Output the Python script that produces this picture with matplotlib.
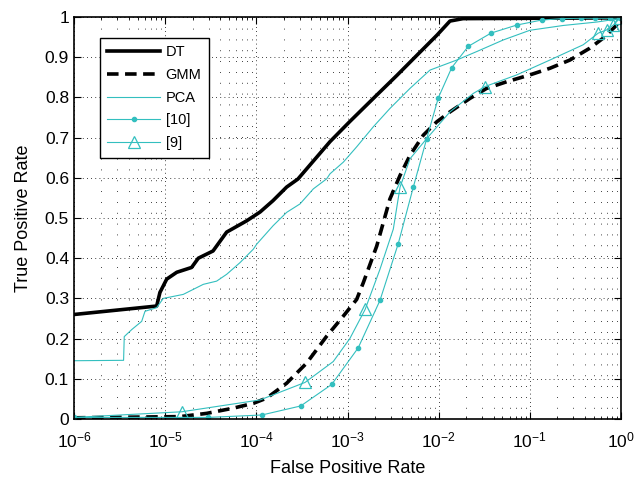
import numpy as np
import matplotlib
matplotlib.use("Agg")
import matplotlib.pyplot as plt
from matplotlib.ticker import FuncFormatter, LogLocator, MultipleLocator, FixedLocator

plt.rcParams['font.family'] = ['Liberation Sans', 'DejaVu Sans']
plt.rcParams['mathtext.default'] = 'regular'

# curves (false positive rate, true positive rate)
dt_fpr = [1e-6, 8.07e-6, 8.77e-6, 1.04e-5, 1.34e-5, 1.95e-5, 2.31e-5, 3.35e-5, 4.73e-5,
          7.83e-5, 1.10e-4, 1.52e-4, 2.15e-4, 2.86e-4, 6.43e-4, 1.06e-3, 1.91e-3,
          3.49e-3, 5.78e-3, 9.59e-3, 1.33e-2, 1.85e-2, 1.0]
dt_tpr = [0.26, 0.281, 0.315, 0.348, 0.365, 0.377, 0.40, 0.418, 0.465,
          0.493, 0.515, 0.543, 0.577, 0.597, 0.69, 0.74, 0.797,
          0.855, 0.905, 0.955, 0.99, 0.996, 0.998]

gmm_fpr = [1e-6, 1.46e-5, 2.85e-5, 5.58e-5, 9.27e-5, 1.30e-4, 2.15e-4, 3.56e-4, 5.91e-4,
           9.0e-4, 1.26e-3, 1.49e-3, 2.09e-3, 2.92e-3, 3.77e-3, 4.85e-3, 6.78e-3,
           9.50e-3, 1.33e-2, 2.20e-2, 3.36e-2, 5.57e-2, 0.1, 0.166, 0.275, 0.455,
           0.637, 0.897, 1.0]
gmm_tpr = [0.003, 0.006, 0.014, 0.027, 0.039, 0.052, 0.089, 0.139, 0.206,
           0.256, 0.2975, 0.339, 0.43, 0.5475, 0.606, 0.656, 0.706,
           0.739, 0.764, 0.7975, 0.8225, 0.839, 0.856, 0.8725, 0.893, 0.9225,
           0.9475, 0.98, 0.9975]

pca_fpr = [1e-6, 3.5e-6, 3.56e-6, 4.30e-6, 5.53e-6, 6.01e-6, 8.07e-6, 9.54e-6, 1.58e-5,
           2.62e-5, 3.67e-5, 4.73e-5, 6.62e-5, 9.27e-5, 1.01e-4, 1.53e-4, 2.15e-4,
           3.01e-4, 4.22e-4, 5.91e-4, 6.43e-4, 9.0e-4, 1.26e-3, 1.92e-3, 2.92e-3,
           4.85e-3, 8.03e-3, 1.58e-2, 2.61e-2, 5.12e-2, 0.1, 0.233, 0.541, 0.975]
pca_tpr = [0.145, 0.146, 0.205, 0.2225, 0.243, 0.268, 0.277, 0.30, 0.31,
           0.335, 0.343, 0.36, 0.389, 0.4225, 0.435, 0.481, 0.514,
           0.535, 0.5725, 0.5975, 0.61, 0.639, 0.677, 0.727, 0.7725,
           0.8225, 0.868, 0.893, 0.914, 0.943, 0.967, 0.979, 0.9875, 0.996]

ref10_fpr = [1e-6, 2.97e-5, 1.15e-4, 3.07e-4, 6.71e-4, 1.31e-3, 2.27e-3, 3.60e-3,
             5.27e-3, 7.39e-3, 9.91e-3, 1.39e-2, 2.11e-2, 3.75e-2, 7.18e-2, 0.135,
             0.227, 0.361, 0.519, 0.757, 0.975]
ref10_tpr = [0.004, 0.004, 0.01, 0.0325, 0.086, 0.177, 0.295, 0.436,
             0.577, 0.6975, 0.799, 0.874, 0.927, 0.96, 0.98, 0.9925,
             0.996, 0.997, 0.997, 0.997, 0.998]

ref9_fpr = [1e-6, 1.52e-5, 1.10e-4, 3.42e-4, 6.98e-4, 1.06e-3, 1.56e-3, 2.27e-3,
            3.18e-3, 3.77e-3, 4.85e-3, 7.39e-3, 1.33e-2, 2.40e-2, 3.22e-2, 7.18e-2,
            0.166, 0.385, 0.563, 0.697, 0.823, 0.975]
ref9_tpr = [0.004, 0.018, 0.0475, 0.091, 0.143, 0.2, 0.2725, 0.3725,
            0.4725, 0.577, 0.6475, 0.6975, 0.764, 0.81, 0.827, 0.856,
            0.893, 0.931, 0.96, 0.968, 0.98, 0.9975]
ref9_marks = [1, 3, 6, 9, 14, 18, 19, 20, 21]

x_ticks = [1e-6, 1e-5, 1e-4, 1e-3, 1e-2, 1e-1, 1.0]

cyan = '#33BFBF'

fig = plt.figure(figsize=(6.35, 4.78), dpi=100)
ax = fig.add_axes([0.1165, 0.1234, 0.8615, 0.841])

ax.plot(dt_fpr, dt_tpr, color='black', lw=2.6, label='DT', solid_joinstyle='round')
ax.plot(gmm_fpr, gmm_tpr, color='black', lw=2.6, linestyle=(0, (3.2, 1.8)), label='GMM')
ax.plot(pca_fpr, pca_tpr, color=cyan, lw=0.8, label='PCA')
ax.plot(ref10_fpr, ref10_tpr, color=cyan, lw=0.8, marker='o', ms=3,
        mfc=cyan, mec=cyan, label='[10]')
ax.plot(ref9_fpr, ref9_tpr, color=cyan, lw=0.8, marker='^', ms=9,
        mfc='none', mec=cyan, mew=0.9, markevery=ref9_marks, label='[9]')

ax.set_xscale('log')
ax.set_xlim(1e-6, 1)
ax.set_ylim(0, 1)
ax.yaxis.set_major_locator(MultipleLocator(0.1))
ax.yaxis.set_major_formatter(FuncFormatter(lambda v, p: '%g' % round(v, 2)))
ax.xaxis.set_major_locator(FixedLocator(x_ticks))
ax.xaxis.set_major_formatter(FuncFormatter(lambda v, p: '$10^{%d}$' % round(np.log10(v))))
ax.xaxis.set_minor_locator(LogLocator(base=10, subs=np.arange(2, 10), numticks=10))

ax.grid(True, which='major', axis='both', color='black', lw=0.6, linestyle=(0, (1, 4)))
ax.grid(True, which='minor', axis='x', color='black', lw=0.6, linestyle=(0, (1, 12)))
ax.set_axisbelow(True)

ax.tick_params(which='both', direction='in', top=True, right=True, labelsize=12.5)
ax.tick_params(which='major', length=5, width=0.8)
ax.tick_params(which='minor', length=2.5, width=0.6)
ax.tick_params(axis='x', pad=8)
for s in ax.spines.values():
    s.set_linewidth(1.2)

ax.set_xlabel('False Positive Rate', fontsize=13, labelpad=7)
ax.set_ylabel('True Positive Rate', fontsize=13, labelpad=9)

leg = ax.legend(loc='upper left', bbox_to_anchor=(0.0475, 0.948), borderaxespad=0,
                fontsize=10.5, handlelength=3.6, handletextpad=0.4, borderpad=0.5,
                fancybox=False, framealpha=1, edgecolor='black', labelspacing=0.6)
leg.get_frame().set_linewidth(1.0)

fig.savefig('out.png', dpi=100)
